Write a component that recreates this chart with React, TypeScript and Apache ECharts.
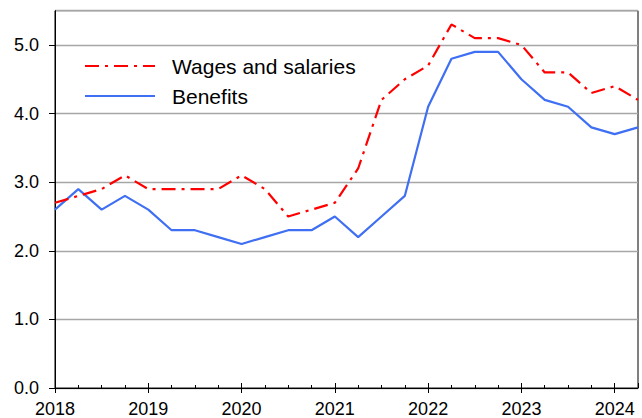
import React, { useEffect, useRef } from "react";
import * as echarts from "echarts";

const quarters = [
  2018.0, 2018.25, 2018.5, 2018.75,
  2019.0, 2019.25, 2019.5, 2019.75,
  2020.0, 2020.25, 2020.5, 2020.75,
  2021.0, 2021.25, 2021.5, 2021.75,
  2022.0, 2022.25, 2022.5, 2022.75,
  2023.0, 2023.25, 2023.5, 2023.75,
  2024.0, 2024.25,
];

const wagesAndSalaries = [
  2.7, 2.8, 2.9, 3.1,
  2.9, 2.9, 2.9, 2.9,
  3.1, 2.9, 2.5, 2.6,
  2.7, 3.2, 4.2, 4.5,
  4.7, 5.3, 5.1, 5.1,
  5.0, 4.6, 4.6, 4.3,
  4.4, 4.2,
];

const benefits = [
  2.6, 2.9, 2.6, 2.8,
  2.6, 2.3, 2.3, 2.2,
  2.1, 2.2, 2.3, 2.3,
  2.5, 2.2, 2.5, 2.8,
  4.1, 4.8, 4.9, 4.9,
  4.5, 4.2, 4.1, 3.8,
  3.7, 3.8,
];

const yearTicks = [2018, 2019, 2020, 2021, 2022, 2023, 2024];

const FONT = "'Liberation Sans', Arial, sans-serif";

export default function App() {
  const ref = useRef<HTMLDivElement>(null);
  useEffect(() => {
    if (!ref.current) return;
    const chart = echarts.init(ref.current, undefined, { renderer: "svg" });
    const pairs = (vals: number[]) => quarters.map((q, i) => [q, vals[i]]);
    chart.setOption({
      animation: false,
      backgroundColor: "#ffffff",
      textStyle: { fontFamily: FONT },
      grid: {
        left: 55,
        right: 4,
        top: 10.7,
        bottom: 30,
        show: true,
        borderColor: "#000000",
        borderWidth: 1,
        backgroundColor: "transparent",
      },
      legend: {
        orient: "vertical",
        left: 79,
        top: 50,
        itemWidth: 70,
        itemHeight: 14,
        itemGap: 8,
        itemStyle: { opacity: 0 },
        textStyle: {
          fontFamily: FONT,
          fontSize: 21,
          color: "#000000",
          lineHeight: 22,
          padding: [0, 0, 0, 12],
        },
        data: ["Wages and salaries", "Benefits"],
      },
      xAxis: [
        {
          type: "value",
          min: 2018,
          max: 2024.25,
          interval: 1,
          axisLine: { show: true, onZero: false, lineStyle: { color: "#000000", width: 1 } },
          axisTick: { show: true, inside: true, length: 5, lineStyle: { color: "#000000" } },
          minorTick: { show: true, splitNumber: 4, length: 3, lineStyle: { color: "#000000" } },
          splitLine: { show: false },
          axisLabel: {
            show: true,
            margin: 12,
            fontSize: 18,
            fontFamily: FONT,
            color: "#000000",
            showMaxLabel: false,
            formatter: (v: number) => (Number.isInteger(v) ? String(v) : ""),
          },
        },
        {
          type: "value",
          position: "bottom",
          min: 2018,
          max: 2024.25,
          interval: 1,
          axisLine: { show: false },
          axisTick: {
            show: true,
            inside: false,
            length: 5,
            customValues: yearTicks,
            lineStyle: { color: "#000000" },
          },
          splitLine: { show: false },
          axisLabel: { show: false },
        },
      ],
      yAxis: {
        type: "value",
        min: 0,
        max: 5.5,
        interval: 1,
        axisLine: { show: true, lineStyle: { color: "#000000", width: 1 } },
        axisTick: { show: true, inside: false, length: 6, lineStyle: { color: "#000000" } },
        splitLine: { show: true, lineStyle: { color: "#a6a6a6", width: 1.3 } },
        axisLabel: {
          margin: 16,
          fontSize: 18,
          fontFamily: FONT,
          color: "#000000",
          showMaxLabel: false,
          formatter: (v: number) => (Number.isInteger(v) ? v.toFixed(1) : ""),
        },
      },
      series: [
        {
          name: "Wages and salaries",
          type: "line",
          xAxisIndex: 0,
          data: pairs(wagesAndSalaries),
          symbol: "none",
          showSymbol: false,
          color: "#ff0000",
          lineStyle: { color: "#ff0000", width: 2.2, type: [14, 6, 3, 6] },
          z: 3,
        },
        {
          name: "Benefits",
          type: "line",
          xAxisIndex: 0,
          data: pairs(benefits),
          symbol: "none",
          showSymbol: false,
          color: "#3f6ff2",
          lineStyle: { color: "#3f6ff2", width: 2.2 },
          z: 2,
        },
      ],
    });
    return () => chart.dispose();
  }, []);
  return (
    <div
      ref={ref}
      style={{ position: "fixed", left: 0, top: 0, width: 642, height: 418 }}
    />
  );
}
